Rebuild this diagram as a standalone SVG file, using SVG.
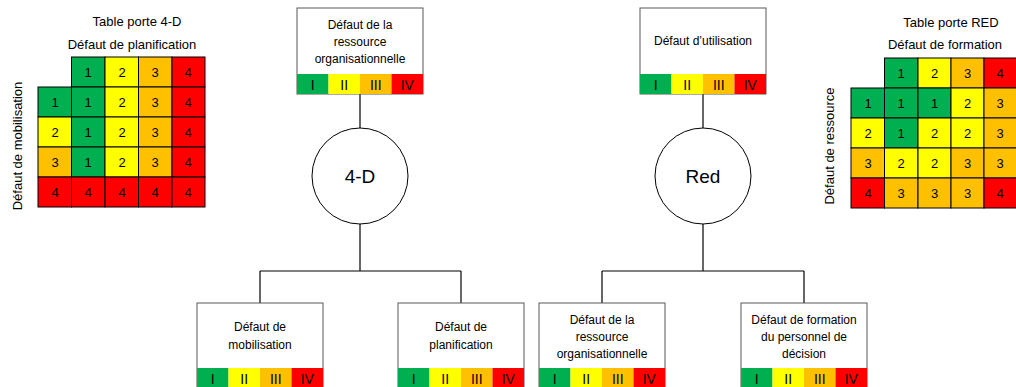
<svg xmlns="http://www.w3.org/2000/svg" width="1016" height="387" viewBox="0 0 1016 387">
<style>
text{font-family:"Liberation Sans",Arial,sans-serif;fill:#000;text-anchor:middle}
.t{font-size:12px}
.h{font-size:13px}
.rn{font-size:14px}
.n{font-size:13px}
.big{font-size:19px}
.g{fill:#00B050}.y{fill:#FFFF00}.o{fill:#FFC000}.r{fill:#FF0000}
.cell rect{stroke:#000;stroke-width:1}
.box{fill:#fff;stroke:#595959;stroke-width:1}
.bar rect{stroke:#000;stroke-width:1}
.conn line{stroke:#000;stroke-width:1.2}
circle{fill:#fff;stroke:#000;stroke-width:1}
</style>
<defs>
<g id="scale">
<rect class="g" x="0" y="0" width="31.5" height="20"/>
<rect class="y" x="31.5" y="0" width="31.5" height="20"/>
<rect class="o" x="63" y="0" width="31.5" height="20"/>
<rect class="r" x="94.5" y="0" width="31.5" height="20"/>
<text class="rn" x="15.75" y="15.5">I</text>
<text class="rn" x="47.25" y="15.5">II</text>
<text class="rn" x="78.75" y="15.5">III</text>
<text class="rn" x="110.25" y="15.5">IV</text>
</g>
</defs>

<g id="connectors" class="conn">
<line x1="360" y1="94" x2="360" y2="128"/>
<line x1="360" y1="224" x2="360" y2="271"/>
<line x1="260" y1="271" x2="461" y2="271"/>
<line x1="260" y1="271" x2="260" y2="303"/>
<line x1="461" y1="271" x2="461" y2="303"/>
<line x1="703" y1="94" x2="703" y2="128"/>
<line x1="703" y1="224" x2="703" y2="271"/>
<line x1="602" y1="271" x2="804" y2="271"/>
<line x1="602" y1="271" x2="602" y2="303"/>
<line x1="804" y1="271" x2="804" y2="303"/>
</g>

<g id="table-4d">
<text class="h" x="137" y="26">Table porte 4-D</text>
<text class="h" x="132" y="49">Défaut de planification</text>
<text class="h" transform="translate(22,146) rotate(-90)">Défaut de mobilisation</text>
<g class="cell">
<rect class="g" x="71.5" y="57" width="33.5" height="30"/><rect class="y" x="105" y="57" width="33.5" height="30"/><rect class="o" x="138.5" y="57" width="33.5" height="30"/><rect class="r" x="172" y="57" width="33" height="30"/>
<rect class="g" x="38" y="87" width="33.5" height="30"/><rect class="g" x="71.5" y="87" width="33.5" height="30"/><rect class="y" x="105" y="87" width="33.5" height="30"/><rect class="o" x="138.5" y="87" width="33.5" height="30"/><rect class="r" x="172" y="87" width="33" height="30"/>
<rect class="y" x="38" y="117" width="33.5" height="30"/><rect class="g" x="71.5" y="117" width="33.5" height="30"/><rect class="y" x="105" y="117" width="33.5" height="30"/><rect class="o" x="138.5" y="117" width="33.5" height="30"/><rect class="r" x="172" y="117" width="33" height="30"/>
<rect class="o" x="38" y="147" width="33.5" height="30"/><rect class="g" x="71.5" y="147" width="33.5" height="30"/><rect class="y" x="105" y="147" width="33.5" height="30"/><rect class="o" x="138.5" y="147" width="33.5" height="30"/><rect class="r" x="172" y="147" width="33" height="30"/>
<rect class="r" x="38" y="177" width="33.5" height="30"/><rect class="r" x="71.5" y="177" width="33.5" height="30"/><rect class="r" x="105" y="177" width="33.5" height="30"/><rect class="r" x="138.5" y="177" width="33.5" height="30"/><rect class="r" x="172" y="177" width="33" height="30"/>
</g>
<g class="n">
<text x="88" y="76.5">1</text><text x="122" y="76.5">2</text><text x="155" y="76.5">3</text><text x="188" y="76.5">4</text>
<text x="55" y="106.5">1</text><text x="88" y="106.5">1</text><text x="122" y="106.5">2</text><text x="155" y="106.5">3</text><text x="188" y="106.5">4</text>
<text x="55" y="136.5">2</text><text x="88" y="136.5">1</text><text x="122" y="136.5">2</text><text x="155" y="136.5">3</text><text x="188" y="136.5">4</text>
<text x="55" y="166.5">3</text><text x="88" y="166.5">1</text><text x="122" y="166.5">2</text><text x="155" y="166.5">3</text><text x="188" y="166.5">4</text>
<text x="55" y="196.5">4</text><text x="88" y="196.5">4</text><text x="122" y="196.5">4</text><text x="155" y="196.5">4</text><text x="188" y="196.5">4</text>
</g>
</g>

<g id="table-red">
<text class="h" x="951" y="27">Table porte RED</text>
<text class="h" x="945" y="49">Défaut de formation</text>
<text class="h" transform="translate(834,146) rotate(-90)">Défaut de ressource</text>
<g class="cell">
<rect class="g" x="884.5" y="58" width="33.5" height="30"/><rect class="y" x="918" y="58" width="33" height="30"/><rect class="o" x="951" y="58" width="33" height="30"/><rect class="r" x="984" y="58" width="33" height="30"/>
<rect class="g" x="851" y="88" width="33.5" height="30"/><rect class="g" x="884.5" y="88" width="33.5" height="30"/><rect class="g" x="918" y="88" width="33" height="30"/><rect class="y" x="951" y="88" width="33" height="30"/><rect class="o" x="984" y="88" width="33" height="30"/>
<rect class="y" x="851" y="118" width="33.5" height="30"/><rect class="g" x="884.5" y="118" width="33.5" height="30"/><rect class="y" x="918" y="118" width="33" height="30"/><rect class="y" x="951" y="118" width="33" height="30"/><rect class="o" x="984" y="118" width="33" height="30"/>
<rect class="o" x="851" y="148" width="33.5" height="30"/><rect class="y" x="884.5" y="148" width="33.5" height="30"/><rect class="y" x="918" y="148" width="33" height="30"/><rect class="o" x="951" y="148" width="33" height="30"/><rect class="o" x="984" y="148" width="33" height="30"/>
<rect class="r" x="851" y="178" width="33.5" height="30"/><rect class="o" x="884.5" y="178" width="33.5" height="30"/><rect class="o" x="918" y="178" width="33" height="30"/><rect class="o" x="951" y="178" width="33" height="30"/><rect class="r" x="984" y="178" width="33" height="30"/>
</g>
<g class="n">
<text x="901" y="77.5">1</text><text x="934.5" y="77.5">2</text><text x="967.5" y="77.5">3</text><text x="1000" y="77.5">4</text>
<text x="868" y="107.5">1</text><text x="901" y="107.5">1</text><text x="934.5" y="107.5">1</text><text x="967.5" y="107.5">2</text><text x="1000" y="107.5">3</text>
<text x="868" y="137.5">2</text><text x="901" y="137.5">1</text><text x="934.5" y="137.5">2</text><text x="967.5" y="137.5">2</text><text x="1000" y="137.5">3</text>
<text x="868" y="167.5">3</text><text x="901" y="167.5">2</text><text x="934.5" y="167.5">2</text><text x="967.5" y="167.5">3</text><text x="1000" y="167.5">3</text>
<text x="868" y="197.5">4</text><text x="901" y="197.5">3</text><text x="934.5" y="197.5">3</text><text x="967.5" y="197.5">3</text><text x="1000" y="197.5">4</text>
</g>
</g>

<g id="node-ressource-top">
<rect class="box" x="297" y="8" width="126" height="86"/>
<text class="t" x="360" y="29">Défaut de la</text>
<text class="t" x="360" y="46">ressource</text>
<text class="t" x="360" y="63">organisationnelle</text>
<g class="bar"><use href="#scale" x="297" y="74"/></g>
</g>

<g id="node-utilisation">
<rect class="box" x="640" y="8" width="126" height="86"/>
<text class="t" x="703" y="45">Défaut d’utilisation</text>
<g class="bar"><use href="#scale" x="640" y="74"/></g>
</g>

<g id="node-4d">
<circle cx="360" cy="176" r="48"/>
<text class="big" x="360" y="183">4-D</text>
</g>

<g id="node-red">
<circle cx="703" cy="176" r="48"/>
<text class="big" x="703" y="183">Red</text>
</g>

<g id="node-mobilisation">
<rect class="box" x="197" y="303" width="126" height="85"/>
<text class="t" x="260" y="331">Défaut de</text>
<text class="t" x="260" y="349">mobilisation</text>
<g class="bar"><use href="#scale" x="197" y="368"/></g>
</g>

<g id="node-planification">
<rect class="box" x="398" y="303" width="126" height="85"/>
<text class="t" x="461" y="331">Défaut de</text>
<text class="t" x="461" y="349">planification</text>
<g class="bar"><use href="#scale" x="398" y="368"/></g>
</g>

<g id="node-ressource-bottom">
<rect class="box" x="539" y="303" width="126" height="85"/>
<text class="t" x="602" y="324">Défaut de la</text>
<text class="t" x="602" y="341">ressource</text>
<text class="t" x="602" y="358">organisationnelle</text>
<g class="bar"><use href="#scale" x="539" y="368"/></g>
</g>

<g id="node-formation">
<rect class="box" x="741" y="303" width="126" height="85"/>
<text class="t" x="804" y="324">Défaut de formation</text>
<text class="t" x="804" y="341">du personnel de</text>
<text class="t" x="804" y="358">décision</text>
<g class="bar"><use href="#scale" x="741" y="368"/></g>
</g>
</svg>
